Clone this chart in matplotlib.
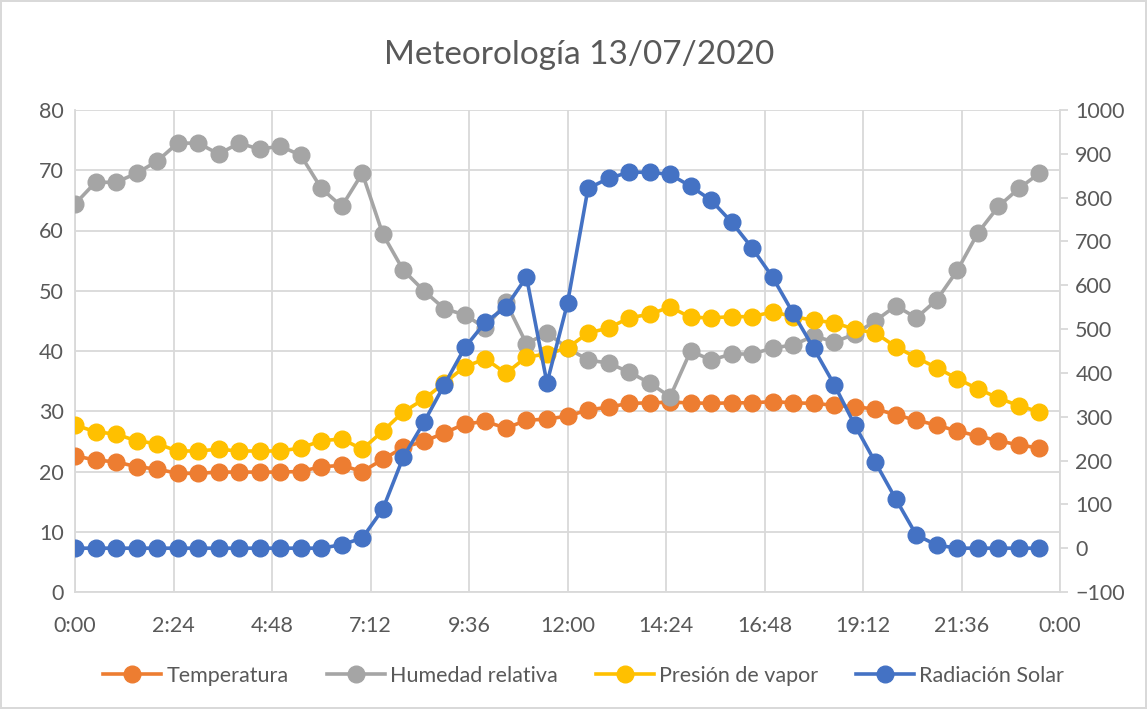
import matplotlib
matplotlib.use("Agg")
import matplotlib.pyplot as plt

plt.rcParams['font.family'] = ['Lato', 'DejaVu Sans']

# half-hour samples, 0:00 .. 23:30
hours = [i * 0.5 for i in range(48)]

temperatura = [22.6, 21.9, 21.6, 20.8, 20.4, 19.7, 19.7, 19.9, 19.9, 19.9, 19.9, 20.0,
               20.8, 21.0, 20.0, 22.0, 24.0, 25.0, 26.4, 27.9, 28.3, 27.2, 28.5, 28.7,
               29.2, 30.2, 30.7, 31.3, 31.4, 31.5, 31.4, 31.3, 31.4, 31.4, 31.6, 31.4,
               31.3, 31.0, 30.7, 30.4, 29.4, 28.5, 27.7, 26.7, 25.9, 25.1, 24.4, 23.9]

humedad = [64.4, 68.0, 68.0, 69.5, 71.5, 74.5, 74.5, 72.7, 74.5, 73.5, 74.0, 72.5,
           67.0, 64.0, 69.5, 59.4, 53.4, 50.0, 47.0, 46.0, 43.8, 48.1, 41.2, 43.0,
           40.5, 38.5, 38.0, 36.5, 34.7, 32.4, 40.0, 38.5, 39.5, 39.5, 40.5, 41.0,
           42.5, 41.5, 42.8, 45.0, 47.5, 45.5, 48.5, 53.4, 59.6, 64.0, 67.0, 69.5]

presion = [27.7, 26.6, 26.2, 25.1, 24.6, 23.4, 23.4, 23.7, 23.4, 23.4, 23.4, 23.9,
           25.1, 25.4, 23.7, 26.7, 29.9, 32.0, 34.7, 37.4, 38.7, 36.3, 39.0, 39.5,
           40.5, 43.0, 43.8, 45.5, 46.1, 47.3, 45.6, 45.5, 45.7, 45.7, 46.5, 45.7,
           45.1, 44.7, 43.6, 43.0, 40.7, 38.9, 37.2, 35.4, 33.7, 32.2, 30.9, 29.9]

radiacion = [0, 0, 0, 0, 0, 0, 0, 0, 0, 0, 0, 0,
             0, 8, 23, 89, 208, 287, 373, 458, 516, 550, 619, 377,
             559, 821, 844, 858, 858, 853, 826, 794, 744, 685, 618, 536,
             456, 373, 281, 196, 112, 30, 7, 0, 0, 0, 0, 0]

x_ticks_h = [0, 2.4, 4.8, 7.2, 9.6, 12.0, 14.4, 16.8, 19.2, 21.6, 24.0]
x_tick_labels = ["0:00", "2:24", "4:48", "7:12", "9:36", "12:00", "14:24",
                 "16:48", "19:12", "21:36", "0:00"]

C_T = "#ED7D31"
C_H = "#A5A5A5"
C_P = "#FFC000"
C_R = "#4472C4"
TXT = "#595959"
GRID = "#D9D9D9"

fig = plt.figure(figsize=(11.47, 7.09), dpi=100)
fig.patch.set_edgecolor(GRID)
fig.patch.set_linewidth(1.5)
ax = fig.add_axes([75/1147, 1 - 592/709, (1060-75)/1147, (592-110)/709])
ax2 = ax.twinx()

lw, ms = 2.6, 12
ax.plot(hours, temperatura, color=C_T, lw=lw, marker='o', ms=ms, label="Temperatura", zorder=3)
ax.plot(hours, humedad, color=C_H, lw=lw, marker='o', ms=ms, label="Humedad relativa", zorder=4)
ax.plot(hours, presion, color=C_P, lw=lw, marker='o', ms=ms, label="Presión de vapor", zorder=5)
ax2.plot(hours, radiacion, color=C_R, lw=lw, marker='o', ms=ms, label="Radiación Solar", zorder=6)

ax.set_xlim(0, 24)
ax.set_ylim(0, 80)
ax2.set_ylim(-100, 1000)
ax.set_yticks(range(0, 81, 10))
ax2.set_yticks(range(-100, 1001, 100))
ax.set_xticks(x_ticks_h)
ax.set_xticklabels(x_tick_labels)

ax.grid(True, color=GRID, lw=1.3, zorder=0)
ax.set_axisbelow(True)
for a in (ax, ax2):
    for s in a.spines.values():
        s.set_visible(False)
for a, side in ((ax, 'left'), (ax, 'bottom'), (ax2, 'right')):
    a.spines[side].set_visible(True)
    a.spines[side].set_color(GRID)
    a.spines[side].set_linewidth(1.3)

FS = 15.5
ax.tick_params(axis='both', length=0, labelsize=FS, labelcolor=TXT, pad=8)
ax.tick_params(axis='x', pad=17)
ax2.tick_params(axis='y', length=6, color=GRID, width=1.3, labelsize=FS, labelcolor=TXT, pad=5)

fig.text(0.505, 1 - 55/709, "Meteorología 13/07/2020", ha='center', va='center',
         fontsize=24, color=TXT)

h1, l1 = ax.get_legend_handles_labels()
h2, l2 = ax2.get_legend_handles_labels()
leg = fig.legend(h1 + h2, l1 + l2, loc='center', bbox_to_anchor=(0.509, 1 - 676/709),
                 ncol=4, frameon=False, fontsize=FS, handlelength=2.7,
                 columnspacing=1.75, handletextpad=0.25, markerscale=1.0)
for t in leg.get_texts():
    t.set_color(TXT)

fig.savefig("out.png", dpi=100)
